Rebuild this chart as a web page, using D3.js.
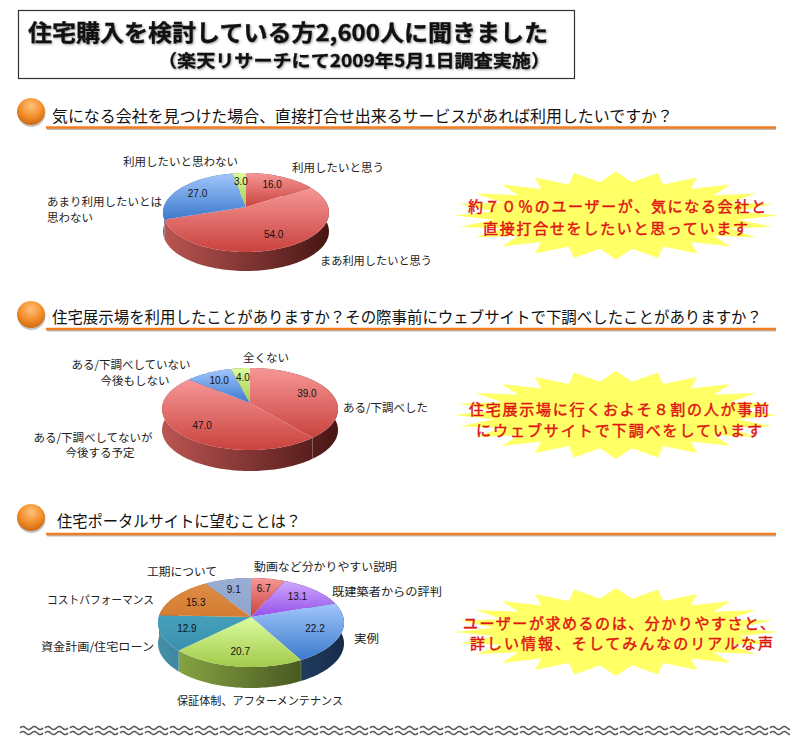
<!DOCTYPE html>
<html lang="ja">
<head>
<meta charset="utf-8">
<title>住宅購入アンケート</title>
<script src="https://cdn.jsdelivr.net/npm/d3@7"></script>
<style>
  html, body { margin: 0; background: #fff; }
  svg { display: block; }
  text { font-family: "Noto Sans CJK JP", "Noto Sans", sans-serif; fill: #222; }
  .title { font-weight: 700; fill: #111; stroke: #111; stroke-width: 0.3px; filter: drop-shadow(1.5px 1.5px 1px #999); }
  .heading { font-size: 16px; fill: #111; }
  .cat { font-size: 11.5px; }
  .val { font-size: 10px; font-family: "Liberation Sans", sans-serif; text-anchor: middle; fill: #111; }
  .burst-text { font-size: 15px; font-weight: 400; fill: #e01414; stroke: #e01414; stroke-width: 0.45px; }
</style>
</head>
<body>
<svg id="chart" width="790" height="740"></svg>
<script>
// Question 1
const q1Categories = ['利用したいと思う', 'まあ利用したいと思う', 'あまり利用したいとは\n思わない', '利用したいと思わない'];
const q1Values = [16.0, 54.0, 27.0, 3.0];
const q1Colors = ['red', 'red', 'blue', 'lime'];

// Question 2
const q2Categories = ['ある/下調べした', 'ある/下調べしてないが\n今後する予定', 'ある/下調べしていない\n今後もしない', '全くない'];
const q2Values = [39.0, 47.0, 10.0, 4.0];
const q2Colors = ['red', 'red', 'blue', 'lime'];

// Question 3
const q3Categories = ['動画など分かりやすい説明', '既建築者からの評判', '実例', '保証体制、アフターメンテナンス', '資金計画/住宅ローン', 'コストパフォーマンス', '工期について'];
const q3Values = [6.7, 13.1, 22.2, 20.7, 12.9, 15.3, 9.1];
const q3Colors = ['red', 'purple', 'blue', 'lime', 'teal', 'orange', 'steel'];

const headings = [
  '気になる会社を見つけた場合、直接打合せ出来るサービスがあれば利用したいですか？',
  '住宅展示場を利用したことがありますか？その際事前にウェブサイトで下調べしたことがありますか？',
  '住宅ポータルサイトに望むことは？'
];
const burstLines = [
  ['約７０％のユーザーが、気になる会社と', '直接打合せをしたいと思っています'],
  ['住宅展示場に行くおよそ８割の人が事前', 'にウェブサイトで下調べをしています'],
  ['ユーザーが求めるのは、分かりやすさと、', '詳しい情報、そしてみんなのリアルな声']
];

// top face gradient and side wall gradient of each colour
const palette = {
  red: { top: ['#f69796', '#c9423e'], wall: ['#bb5552', '#471614'] },
  blue: { top: ['#a2c6fc', '#3b7acb'], wall: ['#4272ac', '#172b48'] },
  lime: { top: ['#dcfca0', '#a2ca4a'], wall: ['#8fb046', '#343f18'] },
  purple: { top: ['#cfa8ff', '#9450e8'], wall: ['#7a44c0', '#3a2060'] },
  teal: { top: ['#45a0bc', '#3a90ac'], wall: ['#458fa9', '#1b4857'] },
  orange: { top: ['#de8c46', '#d47c30'], wall: ['#b06a28', '#5c3410'] },
  steel: { top: ['#9aaed6', '#8ea4c8'], wall: ['#70829f', '#3c4658'] }
};

const svg = d3.select('#chart');
const defs = svg.append('defs');

const orb = defs.append('radialGradient').attr('id', 'orb').attr('cx', '50%').attr('cy', '30%').attr('r', '70%');
orb.append('stop').attr('offset', '0%').attr('stop-color', '#ffc27a');
orb.append('stop').attr('offset', '60%').attr('stop-color', '#f28c28');
orb.append('stop').attr('offset', '100%').attr('stop-color', '#cc6a12');

// text squeezed between two x positions so the run lengths match
function fitText(sel, str, x1, x2, y, cls, adjust) {
  return sel.append('text').attr('class', cls).attr('x', x1).attr('y', y)
    .attr('dominant-baseline', 'central')
    .attr('textLength', x2 - x1).attr('lengthAdjust', adjust || 'spacingAndGlyphs').text(str);
}

// Title box
svg.append('rect').attr('x', 18.5).attr('y', 10.5).attr('width', 556).attr('height', 68)
  .attr('fill', '#fff').attr('stroke', '#333').attr('stroke-width', 1.2);
fitText(svg, '住宅購入を検討している方2,600人に聞きました', 28, 548, 30.5, 'title').style('font-size', '22.5px');
fitText(svg, '（楽天リサーチにて2009年5月1日調査実施）', 158, 550, 59, 'title').style('font-size', '17.5px');

// Section headings
const headLayout = [
  { orbY: 111.5, lineY: 127.5, textY: 115, x1: 52, x2: 673 },
  { orbY: 314.5, lineY: 329, textY: 316, x1: 52, x2: 762 },
  { orbY: 517.5, lineY: 534, textY: 520, x1: 57, x2: 301 }
];
headings.forEach(function (h, i) {
  const l = headLayout[i];
  svg.append('line').attr('x1', 47).attr('x2', 776).attr('y1', l.lineY + 1.5).attr('y2', l.lineY + 1.5)
    .attr('stroke', '#bbb').attr('stroke-width', 2);
  svg.append('line').attr('x1', 46).attr('x2', 776).attr('y1', l.lineY).attr('y2', l.lineY)
    .attr('stroke', '#f37d22').attr('stroke-width', 2.6);
  svg.append('ellipse').attr('cx', 31.5).attr('cy', l.orbY + 1.5).attr('rx', 14).attr('ry', 14).attr('fill', '#c4c4c4');
  svg.append('ellipse').attr('cx', 31).attr('cy', l.orbY).attr('rx', 14).attr('ry', 13.5).attr('fill', 'url(#orb)');
  fitText(svg, h, l.x1, l.x2, l.textY, 'heading');
});

// Pie with perspective: tilt makes the front half of the ellipse bigger than the back
let gradId = 0;
function drawPie(cfg) {
  const g = svg.append('g').attr('transform', 'translate(' + cfg.cx + ',' + cfg.cy + ')');
  const tilt = (cfg.front - cfg.back) / (cfg.front + cfg.back);
  const ry = cfg.back * (1 + tilt);
  const rx = cfg.halfWidth * Math.sqrt(1 - tilt * tilt);

  function rim(theta, r) {
    const u = r * Math.sin(theta);
    const v = -r * Math.cos(theta);
    const w = 1 - tilt * v;
    return [rx * u / w, ry * v / w];
  }
  function arcPoints(a0, a1) {
    const n = Math.max(2, Math.ceil((a1 - a0) / 0.03));
    return d3.range(n + 1).map(i => rim(a0 + (a1 - a0) * i / n, 1));
  }

  const arcs = d3.pie().sort(null)(cfg.values);
  const line = d3.line();
  const walls = g.append('g');
  const faces = g.append('g');
  const labels = g.append('g');

  arcs.forEach(function (d, i) {
    const c = palette[cfg.colors[i]];
    const id = ++gradId;

    const wallGrad = defs.append('linearGradient').attr('id', 'wall' + id)
      .attr('gradientUnits', 'userSpaceOnUse')
      .attr('x1', -cfg.halfWidth).attr('x2', cfg.halfWidth).attr('y1', 0).attr('y2', 0);
    wallGrad.append('stop').attr('offset', '0%').attr('stop-color', c.wall[0]);
    wallGrad.append('stop').attr('offset', '100%').attr('stop-color', c.wall[1]);

    const topGrad = defs.append('linearGradient').attr('id', 'top' + id)
      .attr('x1', 0).attr('x2', 0).attr('y1', 0).attr('y2', 1);
    topGrad.append('stop').attr('offset', '0%').attr('stop-color', c.top[0]);
    topGrad.append('stop').attr('offset', '100%').attr('stop-color', c.top[1]);

    const edge = arcPoints(d.startAngle, d.endAngle);
    const lower = edge.slice().reverse().map(p => [p[0], p[1] + cfg.depth]);
    walls.append('path').attr('d', line(edge.concat(lower)) + 'Z').attr('fill', 'url(#wall' + id + ')');

    // light seam where two slices meet on the front wall
    if (Math.cos(d.endAngle) < 0) {
      const p = rim(d.endAngle, 1);
      walls.append('line').attr('x1', p[0]).attr('x2', p[0]).attr('y1', p[1]).attr('y2', p[1] + cfg.depth)
        .attr('stroke', '#fff').attr('stroke-opacity', 0.3).attr('stroke-width', 0.6);
    }

    faces.append('path').attr('d', line([[0, 0]].concat(edge)) + 'Z').attr('fill', 'url(#top' + id + ')');

    const m = rim((d.startAngle + d.endAngle) / 2, cfg.labelRadius);
    labels.append('text').attr('class', 'val').attr('x', m[0]).attr('y', m[1])
      .attr('dominant-baseline', 'central').text(d.value.toFixed(1));
  });

  // category labels, one text per line
  cfg.categories.forEach(function (cat, i) {
    const pos = cfg.labelPos[i];
    cat.split('\n').forEach(function (s, j) {
      const t = svg.append('text').attr('class', 'cat')
        .attr('x', pos.x + (pos.dx ? pos.dx[j] : 0)).attr('y', pos.y + j * (pos.step || 0))
        .attr('text-anchor', pos.anchor || 'start')
        .attr('dominant-baseline', 'central').text(s);
      if (pos.w) t.attr('textLength', pos.w).attr('lengthAdjust', 'spacingAndGlyphs');
    });
  });
}

drawPie({
  cx: 246, cy: 207, halfWidth: 83, back: 34, front: 45, depth: 19, labelRadius: 0.72,
  values: q1Values, colors: q1Colors, categories: q1Categories,
  labelPos: [
    { x: 292, y: 167 },
    { x: 320, y: 260, w: 112 },
    { x: 47, y: 201, step: 16 },
    { x: 123, y: 161 }
  ]
});

drawPie({
  cx: 250, cy: 403, halfWidth: 88, back: 35, front: 47, depth: 21, labelRadius: 0.72,
  values: q2Values, colors: q2Colors, categories: q2Categories,
  labelPos: [
    { x: 343, y: 407 },
    { x: 93, y: 437, step: 15, anchor: 'middle', dx: [0, 7] },
    { x: 131, y: 364, step: 16, anchor: 'middle', dx: [0, 4] },
    { x: 243, y: 357 }
  ]
});

drawPie({
  cx: 251, cy: 617, halfWidth: 93, back: 39, front: 50, depth: 21, labelRadius: 0.72,
  values: q3Values, colors: q3Colors, categories: q3Categories,
  labelPos: [
    { x: 254, y: 566, w: 143 },
    { x: 332, y: 591, w: 110 },
    { x: 354, y: 638, w: 25 },
    { x: 177, y: 700, w: 166 },
    { x: 41, y: 646, w: 113 },
    { x: 47, y: 599, w: 107 },
    { x: 147, y: 571, w: 70 }
  ]
});

// Yellow callouts: 24 point stars
const burstLayout = [
  { cx: 616, cy: 215.5, rows: [[468, 766, 205], [483, 748, 227]] },
  { cx: 616, cy: 415, rows: [[469, 769, 408], [476, 762, 429]] },
  { cx: 616, cy: 632, rows: [[463, 775, 622], [470, 773, 642]] }
];
const burstPoints = 24;
burstLayout.forEach(function (b, i) {
  const pts = d3.range(burstPoints * 2).map(function (k) {
    const a = k * Math.PI / burstPoints;
    const f = k % 2 === 0 ? 1 : 0.76;
    return [b.cx + 162 * f * Math.sin(a), b.cy - 44 * f * Math.cos(a)];
  });
  svg.append('path').attr('d', d3.line()(pts) + 'Z').attr('fill', '#ffff66');
  burstLines[i].forEach(function (s, j) {
    const r = b.rows[j];
    fitText(svg, s, r[0], r[1], r[2], 'burst-text', 'spacing');
  });
});

// Wavy rule along the bottom
const waveLine = d3.line().curve(d3.curveBasis);
d3.range(20, 780, 25).forEach(function (x0) {
  [728, 733].forEach(function (y0) {
    const pts = d3.range(0, 23.5, 1).map(x => [x0 + x, y0 - 1.6 * Math.sin(x / 23 * 4 * Math.PI)]);
    svg.append('path').attr('d', waveLine(pts)).attr('fill', 'none')
      .attr('stroke', '#555').attr('stroke-width', 1.5);
  });
});
</script>
</body>
</html>
